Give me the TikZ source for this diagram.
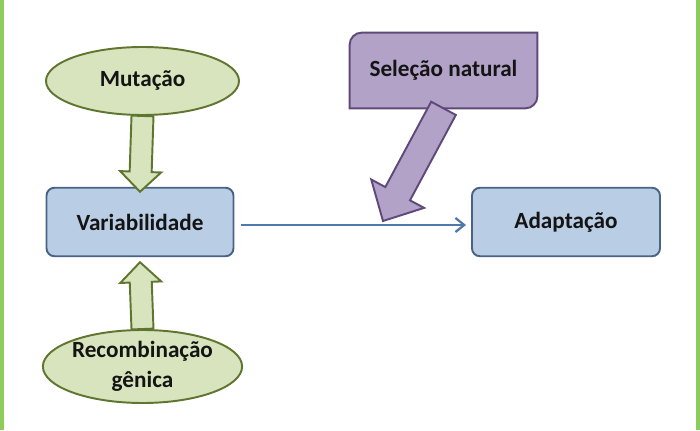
\documentclass[tikz,border=0pt]{standalone}
\usepackage{fontspec}
\setmainfont{Carlito}
\usepackage{tikz}
\usetikzlibrary{calc,positioning,arrows.meta,shapes.geometric,backgrounds}

\definecolor{leafgreen}{HTML}{D7E4BD}
\definecolor{leafline}{HTML}{5F7530}
\definecolor{skyblue}{HTML}{B9CDE5}
\definecolor{skyline}{HTML}{4A6384}
\definecolor{lilac}{HTML}{B3A2C7}
\definecolor{lilacline}{HTML}{5F497A}
\definecolor{framegreen}{HTML}{8DCB5A}
\definecolor{linkblue}{HTML}{4F79A8}

\tikzset{
	label font/.style={font=\bfseries\fontsize{13.2}{17}\selectfont, text=black!92},
	source/.style={ellipse, draw=leafline, fill=leafgreen, line width=1.1pt, inner sep=0pt, minimum width=3.86cm, label font},
	stage/.style={rectangle, rounded corners=0.16cm, draw=skyline, fill=skyblue, line width=1.1pt, minimum width=3.74cm, minimum height=1.37cm, label font},
	greenarrow/.style={draw=leafline, fill=leafgreen, line width=1.1pt},
	purplearrow/.style={draw=lilacline, fill=lilac, line width=1.1pt}
}

% fat arrow: style, half shaft, half head, head length, start, tip
\newcommand{\fatarrow}[6]{
	\coordinate (h) at ($(#6)!#4!(#5)$);
	\draw[#1] ($(#5)!#2!90:(#6)$) -- ($(h)!#2!90:(#6)$) -- ($(h)!#3!90:(#6)$) -- (#6)
		-- ($(h)!#3!-90:(#6)$) -- ($(h)!#2!-90:(#6)$) -- ($(#5)!#2!-90:(#6)$) -- cycle;
}

\begin{document}
\begin{tikzpicture}
	\useasboundingbox (0,0) rectangle (14,8.6);
	\fill[framegreen] (0,0) rectangle (0.08,8.6);
	\fill[framegreen] (13.92,0) rectangle (14,8.6);

	\node[source, minimum height=1.36cm] (mut) at (2.85,6.98) {Mutação};
	\node[stage] (var) at (2.8,4.16) {Variabilidade};
	\node[source, minimum height=1.46cm, align=center] (rec) at (2.85,1.27) {Recombinação\\gênica};
	\node[stage, minimum width=3.76cm] (ad) at (11.32,4.16) {Adaptação};

	% selecao natural box, round on two corners only
	\node[minimum width=3.74cm, minimum height=1.5cm, label font] (sel) at (8.87,7.19) {Seleção natural};
	\begin{scope}[on background layer]
		\draw[purplearrow] (sel.south west) -- ([yshift=-0.24cm]sel.north west) arc (180:90:0.24cm)
			-- (sel.north east) -- ([yshift=0.24cm]sel.south east) arc (0:-90:0.24cm) -- cycle;
	\end{scope}

	\draw[linkblue, line width=1.3pt, -{Straight Barb[length=5pt,width=8pt]}] ([yshift=-0.06cm,xshift=0.14cm]var.east) -- ([yshift=-0.06cm,xshift=-0.1cm]ad.west);

	\fatarrow{greenarrow}{0.22cm}{0.41cm}{0.4cm}{mut.south}{[yshift=-0.1cm]var.north}
	\fatarrow{greenarrow}{0.22cm}{0.41cm}{0.4cm}{rec.north}{[yshift=-0.1cm]var.south}

	\coordinate (seltip) at (7.66,4.18);
	\fatarrow{purplearrow}{0.28cm}{0.6cm}{0.62cm}{sel.south}{seltip}
\end{tikzpicture}
\end{document}
